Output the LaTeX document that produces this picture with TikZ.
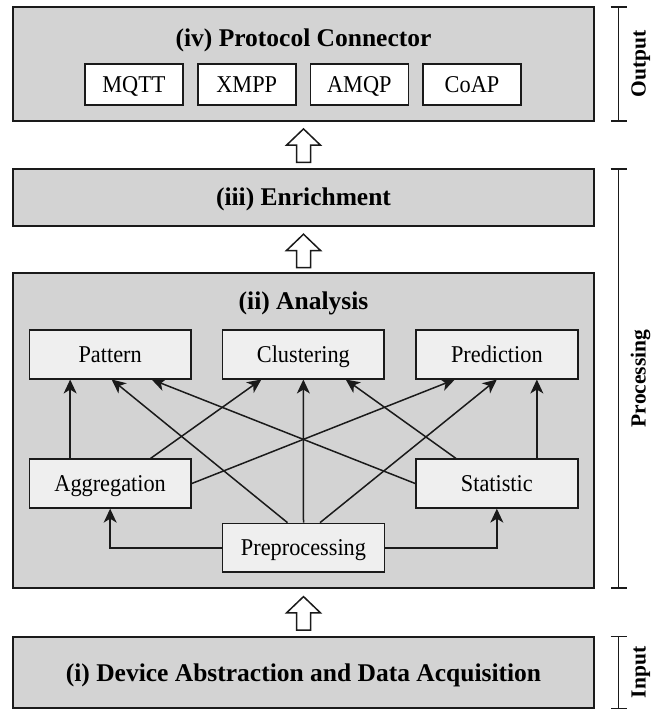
\documentclass[tikz,border=0pt]{standalone}
\usepackage{fontspec}
\setmainfont{Liberation Serif}
\newfontfamily\modfamily[FakeStretch=0.925]{Liberation Serif}
\usetikzlibrary{arrows.meta,calc}

\definecolor{stagegray}{HTML}{D3D3D3}
\definecolor{modfill}{HTML}{EFEFEF}
\definecolor{edgeblack}{HTML}{1A1A1A}

\newcommand\stagefont{\fontsize{25.5}{30}\selectfont\bfseries}
\newcommand\modfont{\modfamily\fontsize{24.1}{28}\selectfont}
\newcommand\sidetagfont{\fontsize{21.5}{25}\selectfont\bfseries}

\begin{document}
\begin{tikzpicture}[x=1pt,y=-1pt,
  stagebox/.style={draw=edgeblack, line width=1.8pt, fill=stagegray,
    minimum width=581.6pt, inner sep=0pt, text height=17pt, text depth=0pt,
    font=\stagefont},
  stagetitle/.style={inner sep=0pt, text height=17pt, text depth=0pt, font=\stagefont},
  modbox/.style={draw=edgeblack, line width=1.6pt, fill=modfill,
    minimum width=161.7pt, minimum height=48.7pt, inner sep=0pt,
    text height=16pt, text depth=0pt, font=\modfont},
  protobox/.style={modbox, fill=white, minimum width=98pt, minimum height=41pt},
  flowarrow/.style={draw=edgeblack, line width=1.5pt,
    -{Stealth[length=14pt,width=13pt,inset=4pt]}},
  sidetag/.style={rotate=90, font=\sidetagfont, inner sep=0pt,
    text height=14pt, text depth=0pt},
  spanbar/.style={draw=edgeblack, line width=1.5pt, {Bar[width=16pt]}-{Bar[width=16pt]}},
  blockup/.pic={\draw[edgeblack, line width=1.5pt, fill=white, line join=miter]
    (0,0) -- (17,16.3) -- (7,16.3) -- (7,33.4) -- (-7,33.4) -- (-7,16.3) -- (-17,16.3) -- cycle;}
]
\useasboundingbox (0,0) rectangle (651,710);

% (iv) protocol connector
\node[stagebox, minimum height=113.4pt] (iv) at (303.5,64) {};
\node[stagetitle] (ivtitle) at (303.5,37.6) {(iv) Protocol Connector};
\node[protobox] (mqtt) at (134,84.5) {MQTT};
\node[protobox] (xmpp) at (246.7,84.5) {XMPP};
\node[protobox] (amqp) at (359.3,84.5) {AMQP};
\node[protobox] (coap) at (472,84.5) {CoAP};

% (iii) enrichment
\node[stagebox, minimum height=56.7pt] (iii) at (303.5,197.35) {(iii) Enrichment};

% (ii) analysis
\node[stagebox, minimum height=314.7pt] (ii) at (303.5,430.65) {};
\node[stagetitle] (iititle) at (303.5,301.1) {(ii) Analysis};

\node[modbox] (pattern) at (110.15,354.35) {Pattern};
\node[modbox] (cluster) at (303.35,354.35) {Clustering};
\node[modbox] (predict) at (496.85,354.35) {Prediction};
\node[modbox] (aggr)    at (110.15,483.5) {Aggregation};
\node[modbox] (stat)    at (496.85,483.5) {Statistic};
\node[modbox] (prep)    at (303.5,547.8) {Preprocessing};

% (i) device abstraction
\node[stagebox, minimum height=71.6pt] (i) at (303.5,672.5) {(i) Device Abstraction and Data Acquisition};

% analysis connectors
\draw[flowarrow] ([xshift=-40pt]aggr.north) -- ([xshift=-40pt]pattern.south);
\draw[flowarrow] ([xshift=40.5pt]aggr.north) -- ([xshift=-42pt]cluster.south);
\draw[flowarrow] (aggr.east) -- ([xshift=-42pt]predict.south);
\draw[flowarrow] ([xshift=-16pt]prep.north) -- ([xshift=1.5pt]pattern.south);
\draw[flowarrow] (prep.north) -- (cluster.south);
\draw[flowarrow] ([xshift=16.5pt]prep.north) -- (predict.south);
\draw[flowarrow] (stat.west) -- ([xshift=41.5pt]pattern.south);
\draw[flowarrow] ([xshift=-41pt]stat.north) -- ([xshift=42.4pt]cluster.south);
\draw[flowarrow] ([xshift=40pt]stat.north) -- ([xshift=40pt]predict.south);
\draw[flowarrow] (prep.west) -| (aggr.south);
\draw[flowarrow] (prep.east) -| (stat.south);

% hollow arrows between stages
\pic at ($(iv.south)+(0,7.3)$) {blockup};
\pic at ($(iii.south)+(0,7.6)$) {blockup};
\pic at ($(ii.south)+(0,7.7)$) {blockup};

% stage brackets
\draw[spanbar] ($(iv.north east)+(23.4,0)$) -- ($(iv.south east)+(23.4,0)$);
\draw[spanbar] ($(iii.north east)+(23.4,0)$) -- ($(ii.south east)+(23.4,0)$);
\draw[spanbar] ($(i.north east)+(23.4,0)$) -- ($(i.south east)+(23.4,0)$);

\node[sidetag] (outtag) at ($(iv.east)+(43.4,0)$) {Output};
\node[sidetag] (proctag) at ($(iii.north east)!0.5!(ii.south east)+(43.4,0)$) {Processing};
\node[sidetag] (intag) at ($(i.east)+(43.4,0)$) {Input};
\end{tikzpicture}
\end{document}
